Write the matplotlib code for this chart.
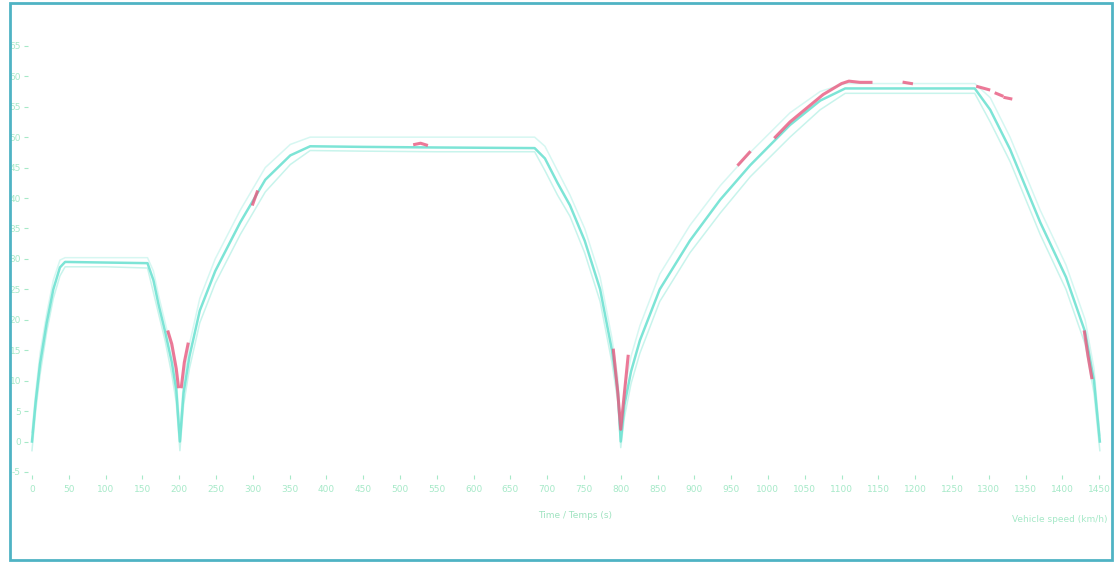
import numpy as np
import matplotlib
matplotlib.use("Agg")
import matplotlib.pyplot as plt
from matplotlib.patches import Rectangle

# ---- data (time in s, speed in km/h) ----
time_s = [0, 5, 11, 20, 29, 38, 45, 100, 157, 165, 172, 181, 190, 196, 201,
          206, 214, 228, 249, 283, 317, 351, 378, 450, 550, 683, 697, 714, 731,
          751, 772, 788, 796, 800, 805, 814, 826, 853, 894, 935, 976, 1030,
          1071, 1105, 1200, 1281, 1302, 1329, 1370, 1405, 1431, 1443, 1451]
speed_target = [0, 6.5, 12.8, 19.5, 25, 28.6, 29.5, 29.4, 29.3, 26.5, 22.5, 18, 13,
                8.5, 0, 8, 14, 21.5, 28, 36, 43, 47, 48.5, 48.4, 48.3, 48.2, 46.5,
                42.5, 38.8, 33, 25, 15, 8.4, 0, 6, 11.5, 16.6, 25, 33, 39.7, 45.4,
                52, 56, 58, 58, 58, 54.5, 48, 36, 27, 18, 10, 0]
speed_upper = [1.5, 8, 14.5, 21, 26.5, 29.8, 30.2, 30.2, 30.2, 28, 24, 19.5, 15,
               10.5, 2, 10, 16, 23.5, 30, 38, 45, 48.8, 50, 50, 50, 50, 48.5,
               44.5, 40.5, 35, 27, 17, 10.5, 2, 8.5, 14, 19, 27.5, 35.5, 42, 47.5,
               54, 57.5, 58.8, 58.8, 58.8, 56.5, 50, 38, 29, 20, 12, 1]
speed_lower = [-1.5, 5, 11, 18, 23.5, 27.2, 28.7, 28.7, 28.5, 24.5, 21, 16.5, 11,
               6.5, -1.5, 6, 12, 19.5, 26, 34, 41, 45.5, 47.8, 47.7, 47.6, 47.6,
               44.5, 40.5, 37, 31, 23, 13, 6.5, -1, 4, 9.5, 14.5, 23, 31, 37.5,
               43.5, 50, 54.5, 57.2, 57.2, 57.2, 52.5, 46, 34, 25, 16, 8, -1.5]

red_time = [185, 190, 196, 199, np.nan, 203, 207, 212, np.nan, 300, 306, np.nan,
            520, 528, 536, np.nan, 790, 796, 800, 805, 810, np.nan,
            960, 975, np.nan, 1010, 1030, 1050, 1075, 1100, 1110, 1125, 1140, np.nan,
            1185, 1195, np.nan, 1285, 1300, np.nan, 1310, 1318, np.nan, 1322, 1330,
            np.nan, 1430, 1435, 1440]
red_speed = [18, 16, 12, 9, np.nan, 9, 13, 16, np.nan, 39, 41, np.nan,
             48.8, 49, 48.7, np.nan, 15, 8, 2, 8, 14, np.nan,
             45.5, 47.5, np.nan, 50, 52.5, 54.5, 57, 58.8, 59.2, 59, 59, np.nan,
             59, 58.8, np.nan, 58.3, 57.8, np.nan, 57.2, 56.8, np.nan, 56.5, 56.3,
             np.nan, 18, 14, 10.5]

x_ticks = list(range(0, 1451, 50))
y_ticks = list(range(-5, 66, 5))

# ---- figure ----
fig = plt.figure(figsize=(11.15, 5.63), dpi=100)
fig.patch.set_facecolor("white")
ax = fig.add_axes([28 / 1115, (563 - 475) / 563, (1105 - 28) / 1115, (475 - 30) / 563])

ax.plot(time_s, speed_upper, color="#d6f7f2", lw=1.1, zorder=2)
ax.plot(time_s, speed_lower, color="#c8f4ec", lw=1.1, zorder=2)
ax.plot(time_s, speed_target, color="#6fe2d2", lw=1.8, alpha=0.9, zorder=3)
ax.plot(red_time, red_speed, color="#e8587e", lw=2.2, alpha=0.8, zorder=4)

ax.set_xlim(-5.4, 1458)
ax.set_ylim(-5.5, 67.6)
ax.set_xticks(x_ticks)
ax.set_yticks(y_ticks)
ax.set_xticklabels([str(v) for v in x_ticks])
ax.set_yticklabels([str(v) for v in y_ticks])
tick_col = "#a6e9c8"
ax.tick_params(axis="both", colors=tick_col, labelsize=6.5, length=3, width=0.8)
ax.tick_params(axis="x", pad=4)
ax.tick_params(axis="y", pad=2)
for s in ax.spines.values():
    s.set_visible(False)

fig.text(575 / 1115, 1 - 515 / 563, "Time / Temps (s)", color="#9fe3c0",
         fontsize=6.5, ha="center", va="center")
fig.text(1108 / 1115, 1 - 520 / 563, "Vehicle speed (km/h)", color="#a6e9c8",
         fontsize=6.5, ha="right", va="center")

# figure frame
fig.patches.append(Rectangle((10 / 1115, 3 / 563), 1102 / 1115, 557 / 563,
                             transform=fig.transFigure, fill=False,
                             edgecolor="#4fb3c4", lw=2))

fig.savefig("out.png", dpi=100, facecolor="white")
